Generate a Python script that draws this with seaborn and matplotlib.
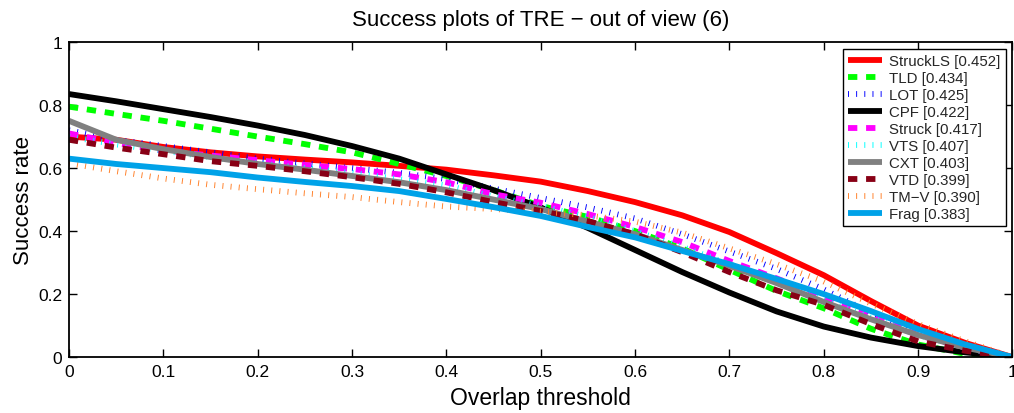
import numpy as np
import pandas as pd
import matplotlib
matplotlib.use("Agg")
import matplotlib.pyplot as plt
import seaborn as sns

thresholds = [0.0, 0.05, 0.1, 0.15, 0.2, 0.25, 0.3, 0.35, 0.4, 0.45, 0.5,
              0.55, 0.6, 0.65, 0.7, 0.75, 0.8, 0.85, 0.9, 0.95, 1.0]

struckls = [0.70, 0.69, 0.667, 0.65, 0.637, 0.627, 0.618, 0.607, 0.595, 0.577, 0.557,
            0.527, 0.492, 0.45, 0.397, 0.33, 0.26, 0.178, 0.10, 0.045, 0.0]
tld = [0.795, 0.772, 0.75, 0.725, 0.70, 0.676, 0.65, 0.613, 0.575, 0.53, 0.48,
       0.445, 0.40, 0.345, 0.277, 0.21, 0.155, 0.09, 0.04, 0.01, 0.0]
lot = [0.72, 0.69, 0.67, 0.65, 0.63, 0.615, 0.60, 0.585, 0.565, 0.535, 0.505,
       0.475, 0.44, 0.39, 0.335, 0.28, 0.215, 0.14, 0.08, 0.03, 0.0]
cpf = [0.835, 0.812, 0.787, 0.762, 0.735, 0.705, 0.67, 0.63, 0.58, 0.53, 0.475,
       0.41, 0.34, 0.27, 0.205, 0.145, 0.097, 0.062, 0.035, 0.015, 0.0]
struck = [0.71, 0.68, 0.655, 0.64, 0.625, 0.61, 0.597, 0.58, 0.555, 0.517, 0.49,
          0.454, 0.413, 0.365, 0.305, 0.25, 0.19, 0.13, 0.07, 0.03, 0.0]
vts = [0.70, 0.675, 0.655, 0.635, 0.615, 0.60, 0.585, 0.565, 0.545, 0.51, 0.48,
       0.445, 0.40, 0.35, 0.295, 0.24, 0.18, 0.125, 0.07, 0.03, 0.0]
cxt = [0.75, 0.69, 0.66, 0.635, 0.613, 0.595, 0.575, 0.555, 0.53, 0.50, 0.47,
       0.43, 0.39, 0.34, 0.29, 0.235, 0.175, 0.12, 0.07, 0.03, 0.0]
vtd = [0.69, 0.665, 0.644, 0.622, 0.607, 0.59, 0.571, 0.55, 0.523, 0.492, 0.464,
       0.432, 0.39, 0.333, 0.27, 0.212, 0.166, 0.105, 0.05, 0.02, 0.0]
tmv = [0.615, 0.59, 0.567, 0.547, 0.533, 0.52, 0.508, 0.492, 0.478, 0.47, 0.462,
       0.45, 0.43, 0.395, 0.345, 0.295, 0.24, 0.17, 0.105, 0.05, 0.0]
frag = [0.63, 0.613, 0.60, 0.587, 0.57, 0.556, 0.543, 0.527, 0.502, 0.476, 0.448,
        0.413, 0.38, 0.337, 0.295, 0.248, 0.20, 0.146, 0.089, 0.04, 0.0]

names = ["StruckLS", "TLD", "LOT", "CPF", "Struck", "VTS", "CXT", "VTD", "TM\u2212V", "Frag"]
scores = ["0.452", "0.434", "0.425", "0.422", "0.417", "0.407", "0.403", "0.399", "0.390", "0.383"]
series = [struckls, tld, lot, cpf, struck, vts, cxt, vtd, tmv, frag]

colors = ["#ff0000", "#00ff00", "#0000ff", "#000000", "#ff00ff", "#00ffff",
          "#808080", "#880015", "#ff7f27", "#00a2e8"]
solid = "-"
dashed = (0, (1.6, 1.5))
dotted = (0, (0.16, 1.24))
styles = [solid, dashed, dotted, solid, dashed, dotted, solid, dashed, dotted, solid]

xtick_vals = [0, 0.1, 0.2, 0.3, 0.4, 0.5, 0.6, 0.7, 0.8, 0.9, 1.0]
xtick_labels = ["0", "0.1", "0.2", "0.3", "0.4", "0.5", "0.6", "0.7", "0.8", "0.9", "1"]
ytick_vals = [0, 0.2, 0.4, 0.6, 0.8, 1.0]
ytick_labels = ["0", "0.2", "0.4", "0.6", "0.8", "1"]

sns.set_theme(style="white")
plt.rcParams["font.family"] = ["Liberation Sans", "DejaVu Sans"]

fig = plt.figure(figsize=(10.14, 4.14), dpi=100)
ax = fig.add_axes([0.068, 0.135, 0.9305, 0.761])

for name, score, vals, col, ls in zip(names, scores, series, colors, styles):
    df = pd.DataFrame({"x": thresholds, "y": vals})
    sns.lineplot(data=df, x="x", y="y", ax=ax, color=col, linewidth=4.2,
                 linestyle=ls, dash_capstyle="butt", solid_capstyle="butt",
                 label=f"{name} [{score}]")

ax.set_xlim(0, 1)
ax.set_ylim(0, 1)
ax.set_xticks(xtick_vals)
ax.set_xticklabels(xtick_labels)
ax.set_yticks(ytick_vals)
ax.set_yticklabels(ytick_labels)
ax.tick_params(direction="in", length=6, width=1, colors="black", labelsize=12.5,
               top=True, right=True, bottom=True, left=True, pad=5)
for sp in ax.spines.values():
    sp.set_visible(True)
    sp.set_color("black")
    sp.set_linewidth(1.3)

ax.set_xlabel("Overlap threshold", fontsize=16.5, labelpad=5, color="black")
ax.set_ylabel("Success rate", fontsize=16, labelpad=3, color="black")
ax.set_title("Success plots of TRE \u2212 out of view (6)", fontsize=16, pad=12, color="black")

leg = ax.legend(loc="upper right", bbox_to_anchor=(0.993, 0.978), borderaxespad=0,
                fontsize=10.8, handlelength=2.3, labelspacing=0.2, handletextpad=0.45,
                borderpad=0.35, frameon=True, fancybox=False)
leg.get_frame().set_edgecolor("black")
leg.get_frame().set_linewidth(1.0)
leg.get_frame().set_alpha(1)

fig.savefig("out.png", dpi=100)
